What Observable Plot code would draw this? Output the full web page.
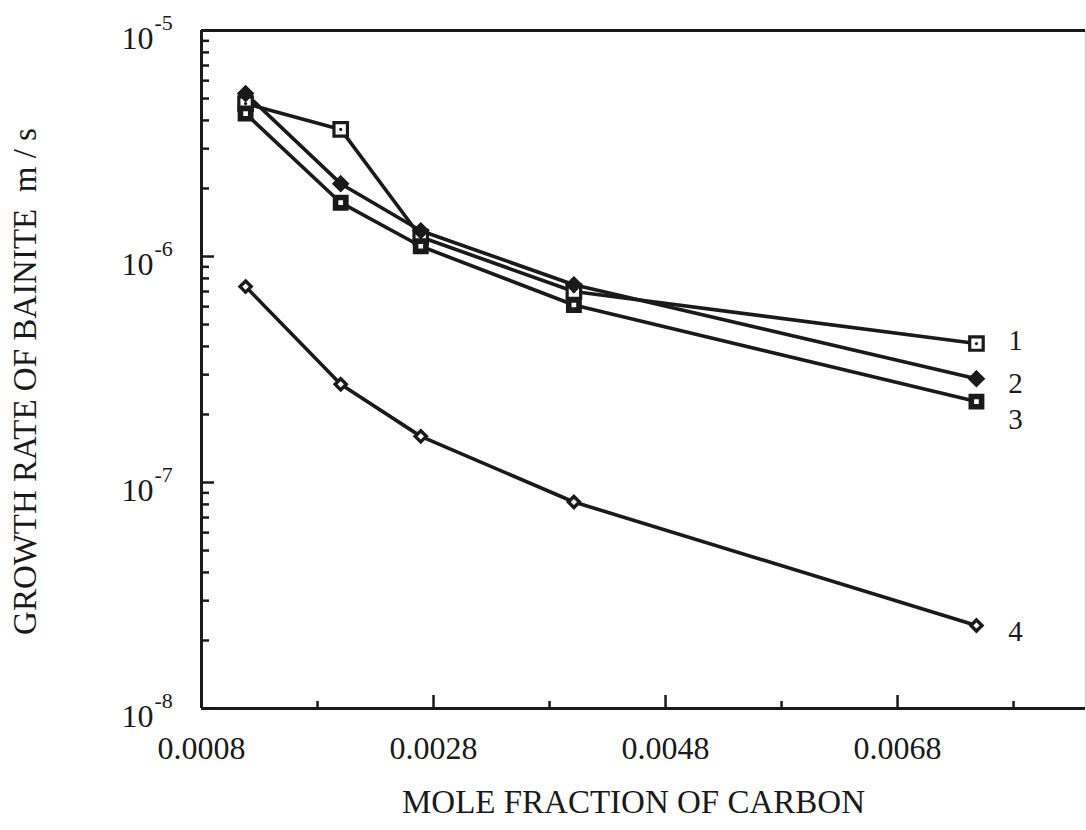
<!DOCTYPE html>
<html><head><meta charset="utf-8">
<script src="https://cdn.jsdelivr.net/npm/d3@7"></script>
<script src="https://cdn.jsdelivr.net/npm/@observablehq/plot@0.6"></script>
<style>
body{margin:0;background:#fff;}
svg{font-family:"Liberation Serif","Times New Roman",serif;}
</style></head><body><div id="chart"></div>
<script>
// ---- data ----
const carbon  = [0.00118, 0.00200, 0.00269, 0.00401, 0.00748];
const series1 = [4.75e-6, 3.65e-6, 1.22e-6, 7.0e-7, 4.12e-7];
const series2 = [5.26e-6, 2.10e-6, 1.30e-6, 7.5e-7, 2.88e-7];
const series3 = [4.29e-6, 1.73e-6, 1.11e-6, 6.1e-7, 2.28e-7];
const series4 = [7.36e-7, 2.72e-7, 1.60e-7, 8.2e-8, 2.33e-8];
const seriesNames = ["1", "2", "3", "4"];
const xMajorTicks = [0.0008, 0.0028, 0.0048, 0.0068];
const xMinorTicks = [0.0018, 0.0038, 0.0058, 0.0078];
const yMajorTicks = [1e-8, 1e-7, 1e-6, 1e-5];
const yTickExponents = ["-8", "-7", "-6", "-5"];
const xTitle = "MOLE FRACTION OF CARBON";
const yTitle = "GROWTH RATE OF BAINITE\u00A0\u00A0m / s";

// ---- tables built from the arrays ----
const allSeries = [series1, series2, series3, series4];
const rows = allSeries.flatMap((vals, i) => vals.map((v, j) => ({series: seriesNames[i], x: carbon[j], y: v})));
const lastRows = rows.filter(d => d.x === carbon[carbon.length - 1]);
const yMinorTicks = yMajorTicks.slice(0, -1).flatMap(t => d3.range(2, 10).map(k => t * k));
const yLabels = yMajorTicks.map((t, i) => ({t, e: yTickExponents[i]}));
const labelDy = {"1": -3, "2": 5, "3": 18, "4": 6};

const xDomain = [0.0008, 0.00842];
const ink = "#1a1a1a";
const S = s => d => d.series === s;

const chart = Plot.plot({
  width: 1086,
  height: 830,
  marginLeft: 201,
  marginRight: 1,
  marginTop: 30,
  marginBottom: 122,
  style: {fontFamily: "Liberation Serif, Times New Roman, serif", background: "#fff", color: ink},
  x: {domain: xDomain, label: null},
  y: {type: "log", domain: [1e-8, 1e-5], label: null},
  marks: [
    // frame lines
    Plot.ruleX([xDomain[0]], {stroke: ink, strokeWidth: 3}),
    Plot.ruleX([xDomain[1]], {stroke: "#ccc", strokeWidth: 1.5}),
    Plot.ruleY([1e-8], {stroke: ink, strokeWidth: 3}),
    Plot.ruleY([1e-5], {stroke: ink, strokeWidth: 3}),
    // inward ticks
    Plot.axisX({ticks: xMajorTicks, tickSize: -13, tickFormat: () => "", strokeWidth: 2.5, label: null}),
    Plot.axisX({ticks: xMinorTicks, tickSize: -7, tickFormat: () => "", strokeWidth: 2.5, label: null}),
    Plot.axisY({ticks: yMajorTicks, tickSize: -13, tickFormat: () => "", strokeWidth: 2.5, label: null}),
    Plot.axisY({ticks: yMinorTicks, tickSize: -8, tickFormat: () => "", strokeWidth: 2.5, label: null}),
    // x tick labels
    Plot.axisX({ticks: xMajorTicks, tickSize: 0, tickPadding: 28, tickFormat: d3.format(".4f"), fontSize: 32, label: null}),
    // y tick labels 10^n
    Plot.text(yLabels, {y: "t", text: () => "10", frameAnchor: "left", textAnchor: "end", dx: -48, dy: 8, fontSize: 32, fill: ink}),
    Plot.text(yLabels, {y: "t", text: "e", frameAnchor: "left", textAnchor: "start", dx: -47, dy: -8, fontSize: 22, fill: ink}),
    // lines
    Plot.line(rows, {x: "x", y: "y", z: "series", stroke: ink, strokeWidth: 3.6}),
    // series 1: open square with center dot
    Plot.dot(rows.filter(S("1")), {x: "x", y: "y", symbol: "square", r: 7.6, fill: "#fff", stroke: ink, strokeWidth: 3.2}),
    Plot.dot(rows.filter(S("1")), {x: "x", y: "y", r: 1.6, fill: ink}),
    // series 2: filled diamond
    Plot.dot(rows.filter(S("2")), {x: "x", y: "y", symbol: "diamond2", r: 7, fill: ink, stroke: ink, strokeWidth: 1.5}),
    // series 3: heavy square with small white center
    Plot.dot(rows.filter(S("3")), {x: "x", y: "y", symbol: "square", r: 5.8, fill: "#fff", stroke: ink, strokeWidth: 5.6}),
    // series 4: open diamond
    Plot.dot(rows.filter(S("4")), {x: "x", y: "y", symbol: "diamond2", r: 5, fill: "#fff", stroke: ink, strokeWidth: 3.4}),
    // series labels
    ...seriesNames.map(s => Plot.text(lastRows.filter(S(s)), {x: "x", y: "y", text: "series", dx: 39, dy: labelDy[s], fontSize: 29, fill: ink})),
    // axis titles
    Plot.text([xTitle], {frameAnchor: "bottom", text: d => d, dx: -10, dy: 104, fontSize: 33, fill: ink}),
    Plot.text([yTitle], {frameAnchor: "left", text: d => d, rotate: -90, textAnchor: "middle", dx: -176, dy: 12, fontSize: 33, fill: ink})
  ]
});
document.getElementById("chart").appendChild(chart);
</script></body></html>
